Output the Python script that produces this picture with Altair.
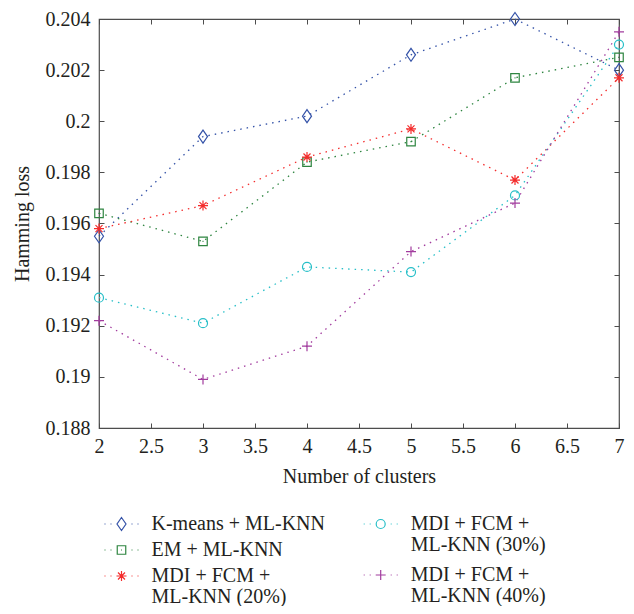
import altair as alt
import pandas as pd

clusters = [2, 3, 4, 5, 6, 7]
series_names = [
    "K-means + ML-KNN",
    "EM + ML-KNN",
    "MDI + FCM + ML-KNN (20%)",
    "MDI + FCM + ML-KNN (30%)",
    "MDI + FCM + ML-KNN (40%)",
]
kmeans = [0.1955, 0.1994, 0.2002, 0.2026, 0.2040, 0.2020]
em = [0.1964, 0.1953, 0.1984, 0.1992, 0.2017, 0.2025]
mdi20 = [0.1958, 0.1967, 0.1986, 0.1997, 0.1977, 0.2017]
mdi30 = [0.1931, 0.1921, 0.1943, 0.1941, 0.1971, 0.2030]
mdi40 = [0.1922, 0.1899, 0.1912, 0.1949, 0.1968, 0.2035]
x_ticks = [2, 2.5, 3, 3.5, 4, 4.5, 5, 5.5, 6, 6.5, 7]
y_ticks = [0.188, 0.19, 0.192, 0.194, 0.196, 0.198, 0.2, 0.202, 0.204]

colors = ["#3553a8", "#2e8540", "#f42c2c", "#27bfc8", "#a23c9e"]

marker_paths = [
    "M0,-1.3L0.9,0L0,1.3L-0.9,0Z",
    "M-0.85,-0.85L0.85,-0.85L0.85,0.85L-0.85,0.85ZM-0.1,0L0.1,0",
    "M-1,0L1,0M0,-1L0,1M-0.7,-0.7L0.7,0.7M-0.7,0.7L0.7,-0.7",
    "M-0.9,0A0.9,0.9 0 1,0 0.9,0A0.9,0.9 0 1,0 -0.9,0Z",
    "M-1,0L1,0M0,-1L0,1",
]
dots = "M-3.4,0L-3.2,0M-2.2,0L-2.0,0M2.0,0L2.2,0M3.2,0L3.4,0"
legend_paths = [p + dots for p in marker_paths]

rows = []
for name, vals in zip(series_names, [kmeans, em, mdi20, mdi30, mdi40]):
    for c, v in zip(clusters, vals):
        rows.append({"clusters": c, "value": v, "series": name})
df = pd.DataFrame(rows)

FONT = "Liberation Serif"
FS = 20
TXT = "#231f20"
AX = "#4d4d4d"

xs = alt.Scale(domain=[2, 7], nice=False, zero=False)
ys = alt.Scale(domain=[0.188, 0.204], nice=False, zero=False)

main_x_axis = alt.Axis(orient="bottom", values=x_ticks, format="~g", ticks=False, domain=False,
                       grid=False, labelFont=FONT, labelFontSize=FS, labelColor=TXT,
                       labelPadding=8, title="Number of clusters", titleFont=FONT,
                       titleFontSize=FS, titleFontWeight="normal", titleColor=TXT,
                       titlePadding=10, labelFlush=False)
main_y_axis = alt.Axis(orient="left", values=y_ticks, format=".3~f", ticks=False, domain=False,
                       grid=False, labelFont=FONT, labelFontSize=FS, labelColor=TXT,
                       labelPadding=9, title="Hamming loss", titleFont=FONT,
                       titleFontSize=FS, titleFontWeight="normal", titleColor=TXT,
                       titlePadding=13, labelFlush=False)


def tick_axis(orient, vals):
    return alt.Axis(orient=orient, values=vals, labels=False, domain=False, grid=False,
                    ticks=True, tickSize=5, tickColor=AX, tickWidth=1, offset=-5, title=None)


base = alt.Chart(df)

lines = base.mark_line(strokeDash=[1.5, 5], strokeWidth=1.3).encode(
    x=alt.X("clusters:Q", scale=xs, axis=main_x_axis),
    y=alt.Y("value:Q", scale=ys, axis=main_y_axis),
    color=alt.Color("series:N", scale=alt.Scale(domain=series_names, range=colors), legend=None),
)

points = base.mark_point(filled=False, size=100, strokeWidth=1.2, opacity=1).encode(
    x=alt.X("clusters:Q", scale=xs, axis=tick_axis("bottom", x_ticks)),
    y=alt.Y("value:Q", scale=ys, axis=tick_axis("left", y_ticks)),
    color=alt.Color("series:N", scale=alt.Scale(domain=series_names, range=colors), legend=None),
    shape=alt.Shape("series:N", scale=alt.Scale(domain=series_names, range=marker_paths), legend=None),
)

label_expr = ("indexof(datum.label, 'MDI') == 0 ? "
              "['MDI + FCM +', substring(datum.label, 12)] : datum.label")


def make_legend(lx, ly, rp):
    return alt.Legend(title=None, orient="none", legendX=lx, legendY=ly, direction="vertical",
                      symbolSize=100, symbolStrokeWidth=1.2, labelFont=FONT, labelFontSize=FS,
                      labelColor=TXT, labelOffset=20, labelLimit=400, rowPadding=rp,
                      padding=0, labelExpr=label_expr)


def legend_layer(idx, lx, ly, rp, xaxis, yaxis):
    names = [series_names[i] for i in idx]
    cols = [colors[i] for i in idx]
    paths = [legend_paths[i] for i in idx]
    lg = make_legend(lx, ly, rp)
    return base.transform_filter("false").mark_point(filled=False, size=100, strokeWidth=1.2, opacity=1).encode(
        x=alt.X("clusters:Q", scale=xs, axis=xaxis),
        y=alt.Y("value:Q", scale=ys, axis=yaxis),
        color=alt.Color("series:N", scale=alt.Scale(domain=names, range=cols), legend=lg),
        shape=alt.Shape("series:N", scale=alt.Scale(domain=names, range=paths), legend=lg),
    )


legA = legend_layer([0, 1, 2], 12.5, 495, 6, tick_axis("top", x_ticks), tick_axis("right", y_ticks))
legB = legend_layer([3, 4], 271.7, 495, 10, None, None)

chart = alt.layer(lines, points, legA, legB).resolve_scale(
    color="independent", shape="independent"
).resolve_axis(
    x="independent", y="independent"
).properties(
    width=520, height=409,
    autosize=alt.AutoSizeParams(type="none"),
    padding={"left": 91, "top": 11, "right": 7, "bottom": 178},
).configure(
    view=alt.ViewConfig(stroke=AX, strokeWidth=1.2),
    style={"guide-label": {"lineHeight": 21}},
)

chart.save("out.html", embed_options={"renderer": "svg", "actions": False})
